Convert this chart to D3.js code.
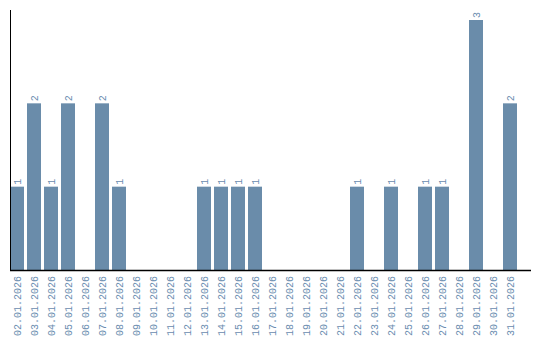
<!DOCTYPE html>
<html><head><meta charset="utf-8">
<script src="https://cdn.jsdelivr.net/npm/d3@7"></script>
<style>body{margin:0;background:#fff}svg{display:block}</style>
</head><body>
<svg id="c" width="540" height="340"></svg>
<script>
const dates = ["02.01.2026","03.01.2026","04.01.2026","05.01.2026","06.01.2026","07.01.2026","08.01.2026","09.01.2026","10.01.2026","11.01.2026","12.01.2026","13.01.2026","14.01.2026","15.01.2026","16.01.2026","17.01.2026","18.01.2026","19.01.2026","20.01.2026","21.01.2026","22.01.2026","23.01.2026","24.01.2026","25.01.2026","26.01.2026","27.01.2026","28.01.2026","29.01.2026","30.01.2026","31.01.2026"];
const counts = [1,2,1,2,0,2,1,0,0,0,0,1,1,1,1,0,0,0,0,0,1,0,1,0,1,1,0,3,0,2];

const svg = d3.select("#c");
const color = "#6a8caa";
const textColor = "#6a8caf";
const font = "Liberation Mono, monospace";
const x = d3.scaleBand().domain(dates).range([10, 517]).paddingInner(3/17).paddingOuter(0);
const y = d3.scaleLinear().domain([0, 3]).range([270, 20]);

svg.selectAll("rect.bar").data(dates).join("rect")
  .attr("class","bar")
  .attr("x", d => x(d))
  .attr("width", x.bandwidth())
  .attr("y", (d,i) => y(counts[i]))
  .attr("height", (d,i) => y(0) - y(counts[i]))
  .attr("fill", color);

svg.selectAll("text.val").data(dates.filter((d,i)=>counts[i]>0)).join("text")
  .attr("class","val")
  .attr("transform", d => `translate(${x(d)+x.bandwidth()/2+3.5},${y(counts[dates.indexOf(d)])-2}) rotate(-90)`)
  .attr("font-family", font)
  .attr("font-size", 10)
  .attr("fill", textColor)
  .text(d => counts[dates.indexOf(d)]);

const xAxis = d3.axisBottom(x).tickSize(0).tickPadding(0);
const gx = svg.append("g").attr("transform","translate(0,270)").call(xAxis);
gx.select(".domain").remove();
gx.selectAll("text")
  .attr("font-family", font)
  .attr("font-size",10)
  .attr("fill",textColor)
  .attr("text-anchor","end")
  .attr("dy",null)
  .attr("y",0)
  .attr("transform","translate(3.5,6) rotate(-90)");

svg.append("line").attr("x1",10).attr("x2",531).attr("y1",270.5).attr("y2",270.5).attr("stroke","#000").attr("stroke-width",1.5);
svg.append("line").attr("x1",10.5).attr("x2",10.5).attr("y1",10).attr("y2",270).attr("stroke","#000").attr("stroke-width",1);
</script>
</body></html>
